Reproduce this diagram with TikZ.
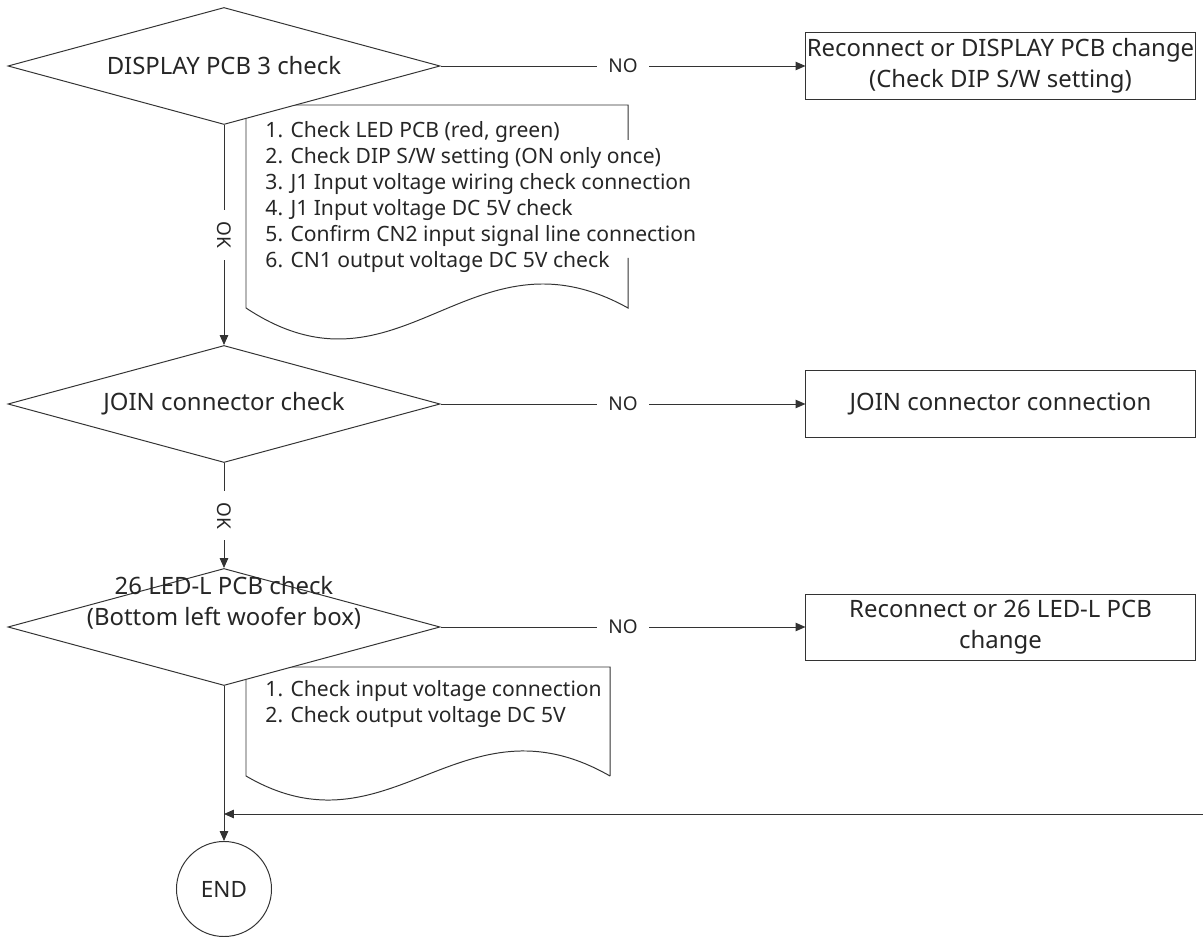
\documentclass[tikz,border=0pt]{standalone}
\usepackage{fontspec}
\setmainfont{Noto Sans}
\usetikzlibrary{shapes,arrows,positioning,fit,calc,arrows.meta}

\begin{document}
\begin{tikzpicture}[
    x=0.025cm, y=-0.025cm,
    line width=0.7pt, draw=black!80, text=black!85,
    dec/.style={draw, fill=white, diamond, aspect=3.7, inner sep=-8pt, minimum width=10.8cm, minimum height=2.925cm, align=center, font=\fontsize{17}{22}\selectfont},
    act/.style={draw, fill=white, minimum width=9.725cm, minimum height=1.65cm, inner sep=0pt, align=center, font=\fontsize{17}{22}\selectfont},
    note/.style={anchor=north west, inner sep=0pt, align=left, font=\fontsize{15}{18.5}\selectfont},
    term/.style={draw, fill=white, circle, minimum size=2.375cm, inner sep=0pt, font=\fontsize{16}{19}\selectfont},
    lbl/.style={fill=white, inner sep=8pt, font=\fontsize{13.5}{16}\selectfont},
    flow/.style={-{Triangle[length=7pt,width=6pt]}}
]
\useasboundingbox (0,0) rectangle (1203,937);

% ---- notes (drawn first, the decisions cover their corners) ----
\draw (628,140) -- (628,105) -- (246,105) -- (246,308) .. controls (400,410) and (470,220) .. (628,308) -- (628,258);
\node[note] (n1) at (265,121) {1. Check LED PCB (red, green)\\ 2. Check DIP S/W setting (ON only once)\\ 3. J1 Input voltage wiring check connection\\ 4. J1 Input voltage DC 5V check\\ 5. Confirm CN2 input signal line connection\\ 6. CN1 output voltage DC 5V check};

\draw (610,776) -- (610,667) -- (246,667) -- (246,776) .. controls (390,860) and (460,690) .. (610,776);
\node[note] (n2) at (265,680) {1. Check input voltage connection\\ 2. Check output voltage DC 5V};

% ---- decisions ----
\node[dec] (d1) at (224,66) {DISPLAY PCB 3 check};
\node[dec] (d2) at (224,404) {JOIN connector check};
\node[dec] (d3) at (224,627) {\raisebox{12.5pt}[0pt][0pt]{\begin{tabular}{@{}c@{}}26 LED-L PCB check\\ (Bottom left woofer box)\end{tabular}}};

% ---- actions ----
\node[act] (b1) at (1000.5,66) {Reconnect or DISPLAY PCB change\\ (Check DIP S/W setting)};
\node[act] (b2) at (1000.5,404) {JOIN connector connection};
\node[act] (b3) at (1000.5,627) {Reconnect or 26 LED-L PCB\\ change};

% ---- end ----
\node[term] (end) at (224,889) {END};
\coordinate (ret) at (1203,814);

% Relations
\draw[flow] (d1) -- node[lbl, rotate=-90] {OK} (d2);
\draw[flow] (d2) -- node[lbl, rotate=-90] {OK} (d3);
\draw[flow] (d3) -- (end);
\draw[flow] (d1) -- node[lbl] {NO} (b1);
\draw[flow] (d2) -- node[lbl] {NO} (b2);
\draw[flow] (d3) -- node[lbl] {NO} (b3);
\draw[flow] (ret) -- (ret -| d3);
\end{tikzpicture}
\end{document}
